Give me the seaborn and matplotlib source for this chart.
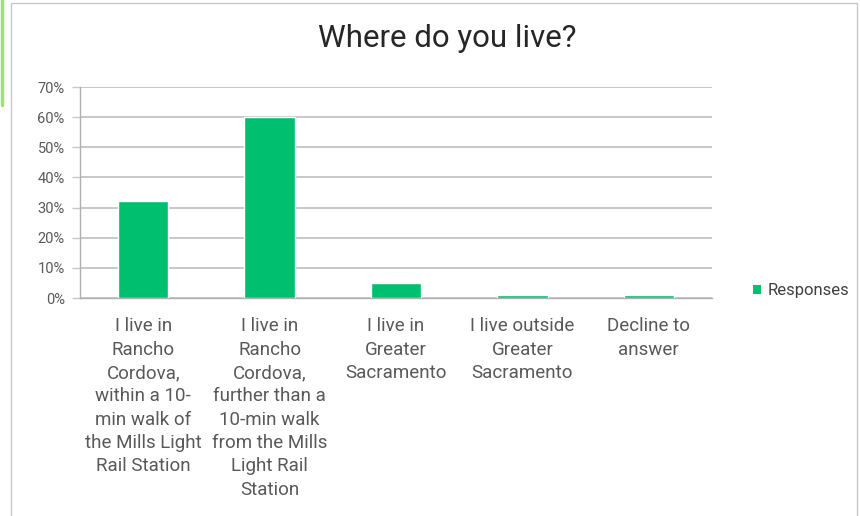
import matplotlib
matplotlib.use("Agg")
import matplotlib.pyplot as plt
import seaborn as sns
import pandas as pd
from matplotlib.patches import Patch, Rectangle
from matplotlib.lines import Line2D
from matplotlib.ticker import FixedLocator, FuncFormatter

# Survey answers and their share of responses (percent)
categories = [
    "I live in Rancho Cordova, within a 10-min walk of the Mills Light Rail Station",
    "I live in Rancho Cordova, further than a 10-min walk from the Mills Light Rail Station",
    "I live in Greater Sacramento",
    "I live outside Greater Sacramento",
    "Decline to answer",
]
responses = [32.3, 60.1, 5.1, 1.1, 1.1]
tick_labels = [
    "I live in\nRancho\nCordova,\nwithin a 10-\nmin walk of\nthe Mills Light\nRail Station",
    "I live in\nRancho\nCordova,\nfurther than a\n10-min walk\nfrom the Mills\nLight Rail\nStation",
    "I live in\nGreater\nSacramento",
    "I live outside\nGreater\nSacramento",
    "Decline to\nanswer",
]
y_ticks = [0, 10, 20, 30, 40, 50, 60, 70]
series_name = "Responses"
title = "Where do you live?"

sns.set_style("white")
plt.rcParams["font.family"] = ["Roboto", "DejaVu Sans"]

BAR = "#00BF6F"
GRID = "#c8c8c8"
AXIS = "#b0b0b0"
TEXT = "#595959"

df = pd.DataFrame({"answer": categories, "pct": responses})

fig = plt.figure(figsize=(8.6, 5.16), dpi=100)
ax = fig.add_axes([80 / 860, 1 - 298 / 516, 632 / 860, 211 / 516])

sns.barplot(data=df, x="answer", y="pct", color=BAR, width=0.4,
            saturation=1, ax=ax, zorder=3)

ax.set_xlim(-0.5, len(categories) - 0.5)
ax.set_ylim(0, 70)
ax.set_xlabel("")
ax.set_ylabel("")

# horizontal gridlines
ax.yaxis.set_major_locator(FixedLocator(y_ticks))
ax.yaxis.set_major_formatter(FuncFormatter(lambda v, p: f"{v:.0f}%"))
ax.grid(axis="y", color=GRID, linewidth=1.4, zorder=0)
ax.grid(axis="x", visible=False)
ax.set_axisbelow(True)

# category labels centred, tick marks on the category boundaries
ax.set_xticks(range(len(categories)))
ax.set_xticklabels(tick_labels, fontsize=13.5, color=TEXT, linespacing=1.38)
ax.tick_params(axis="x", which="major", length=0, pad=14)
ax.xaxis.set_minor_locator(FixedLocator([i - 0.5 for i in range(len(categories) + 1)]))
ax.tick_params(axis="x", which="minor", length=5, width=1, color=AXIS, direction="out")
ax.tick_params(axis="y", length=6, width=1, color=GRID, pad=5, labelsize=10.5,
               labelcolor=TEXT, direction="out")
ax.yaxis.set_ticks_position("left")

for side in ("top", "right"):
    ax.spines[side].set_visible(False)
for side in ("left", "bottom"):
    ax.spines[side].set_color(AXIS)
    ax.spines[side].set_linewidth(1)

fig.text(447 / 860, 1 - 47 / 516, title, ha="center", va="baseline",
         fontsize=22.5, color="#262626")

fig.legend(handles=[Patch(facecolor=BAR, edgecolor="none", label=series_name)],
           loc="center left", bbox_to_anchor=(745 / 860, 1 - 291 / 516),
           frameon=False, fontsize=12, handlelength=0.45, handleheight=0.45,
           handletextpad=0.4, borderpad=0, labelcolor="#404040")

# chart frame and accent strip
fig.add_artist(Rectangle((11 / 860, -0.05), 846 / 860, 1.05 - 3 / 516,
                         transform=fig.transFigure, fill=False,
                         edgecolor="#c8c8c8", linewidth=1))
fig.add_artist(Line2D([1.5 / 860, 1.5 / 860], [1, 1 - 105 / 516],
                      transform=fig.transFigure, color="#9fe36f", linewidth=2.5))

fig.savefig("out.png", dpi=100, facecolor="white")
